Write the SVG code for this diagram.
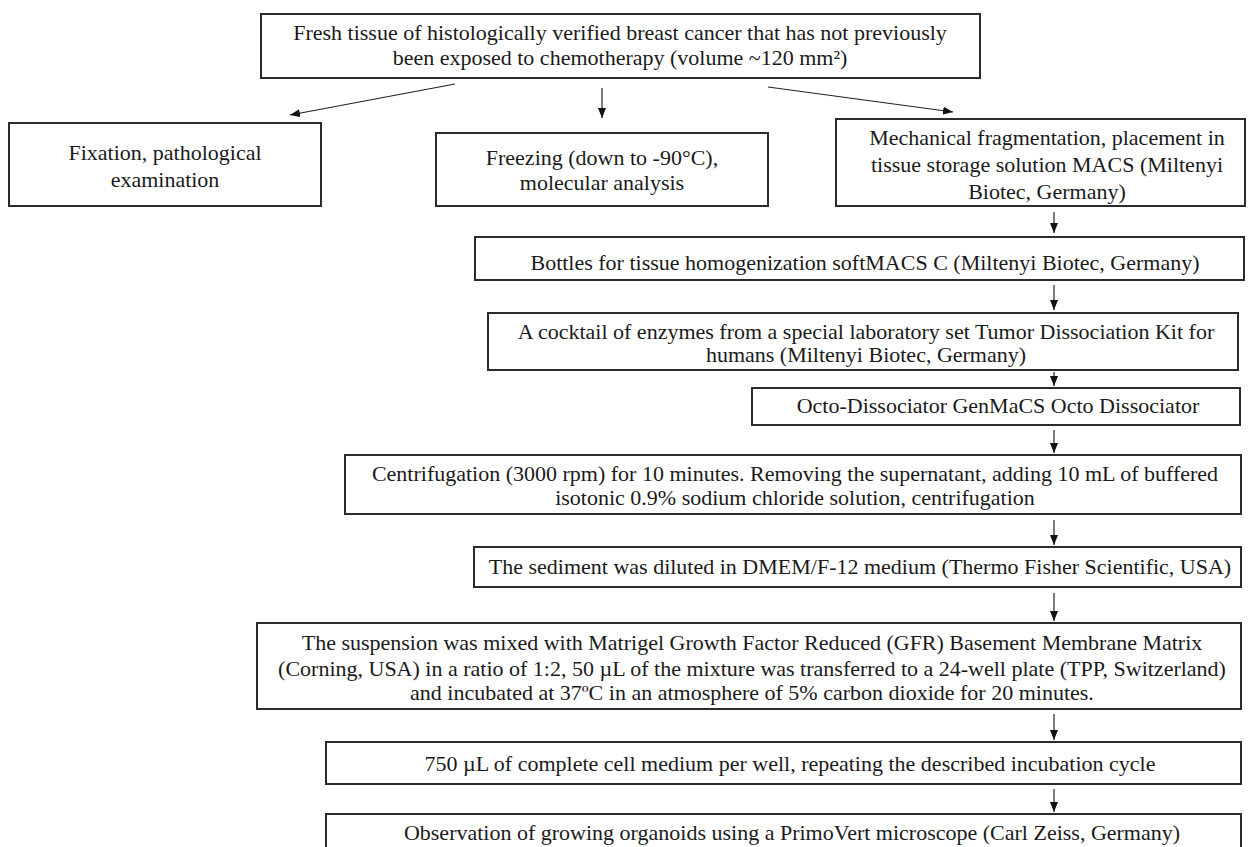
<svg xmlns="http://www.w3.org/2000/svg" width="1248" height="847" viewBox="0 0 1248 847">
<style>
.box{fill:#fff;stroke:#2b2b2b;stroke-width:2}
.t{font-family:"Liberation Serif","Times New Roman",serif;font-size:22px;fill:#1a1a1a;text-anchor:middle}
.c{stroke:#222;stroke-width:1.2;fill:none;marker-end:url(#ah)}
</style>
<defs>
<marker id="ah" markerUnits="userSpaceOnUse" markerWidth="10" markerHeight="8" refX="10" refY="4" orient="auto">
<path d="M0,0 L10,4 L0,8 z" fill="#111"/>
</marker>
</defs>
<rect width="1248" height="847" fill="#fff"/>
<g id="connectors">
<line class="c" x1="455" y1="84" x2="290" y2="115"/>
<line class="c" x1="602" y1="88" x2="602" y2="118"/>
<line class="c" x1="768" y1="87" x2="953" y2="112"/>
<line class="c" x1="1054" y1="212" x2="1054" y2="233"/>
<line class="c" x1="1054" y1="285" x2="1054" y2="310"/>
<line class="c" x1="1054" y1="372" x2="1054" y2="386"/>
<line class="c" x1="1054" y1="430" x2="1054" y2="453"/>
<line class="c" x1="1054" y1="520" x2="1054" y2="545"/>
<line class="c" x1="1054" y1="593" x2="1054" y2="621"/>
<line class="c" x1="1054" y1="714" x2="1054" y2="740"/>
<line class="c" x1="1054" y1="789" x2="1054" y2="812"/>
</g>
<g id="n_top">
<rect class="box" x="261" y="14" width="719" height="64"/>
<text class="t" x="620" y="40">Fresh tissue of histologically verified breast cancer that has not previously</text>
<text class="t" x="620" y="65">been exposed to chemotherapy (volume ~120 mm²)</text>
</g>
<g id="n_fix">
<rect class="box" x="9" y="123" width="312" height="83"/>
<text class="t" x="165" y="160">Fixation, pathological</text>
<text class="t" x="165" y="187">examination</text>
</g>
<g id="n_freeze">
<rect class="box" x="436" y="133" width="332" height="73"/>
<text class="t" x="602" y="165">Freezing (down to -90°C),</text>
<text class="t" x="602" y="190">molecular analysis</text>
</g>
<g id="n_mech">
<rect class="box" x="836" y="119" width="409" height="87"/>
<text class="t" x="1047" y="145">Mechanical fragmentation, placement in</text>
<text class="t" x="1047" y="172">tissue storage solution MACS (Miltenyi</text>
<text class="t" x="1047" y="199">Biotec, Germany)</text>
</g>
<g id="n_bottles">
<rect class="box" x="475" y="237" width="769" height="43"/>
<text class="t" x="865" y="270">Bottles for tissue homogenization softMACS C (Miltenyi Biotec, Germany)</text>
</g>
<g id="n_cocktail">
<rect class="box" x="488" y="313" width="750" height="57"/>
<text class="t" x="866" y="339">A cocktail of enzymes from a special laboratory set Tumor Dissociation Kit for</text>
<text class="t" x="866" y="362">humans (Miltenyi Biotec, Germany)</text>
</g>
<g id="n_octo">
<rect class="box" x="752" y="388" width="488" height="37"/>
<text class="t" x="998" y="413">Octo-Dissociator GenMaCS Octo Dissociator</text>
</g>
<g id="n_centri">
<rect class="box" x="345" y="455" width="896" height="59"/>
<text class="t" x="795" y="481">Centrifugation (3000 rpm) for 10 minutes. Removing the supernatant, adding 10 mL of buffered</text>
<text class="t" x="795" y="505">isotonic 0.9% sodium chloride solution, centrifugation</text>
</g>
<g id="n_sediment">
<rect class="box" x="474" y="547" width="767" height="40"/>
<text class="t" x="860" y="574">The sediment was diluted in DMEM/F-12 medium (Thermo Fisher Scientific, USA)</text>
</g>
<g id="n_susp">
<rect class="box" x="257" y="623" width="984" height="86"/>
<text class="t" x="752" y="650">The suspension was mixed with Matrigel Growth Factor Reduced (GFR) Basement Membrane Matrix</text>
<text class="t" x="752" y="676">(Corning, USA) in a ratio of 1:2, 50 µL of the mixture was transferred to a 24-well plate (TPP, Switzerland)</text>
<text class="t" x="752" y="700">and incubated at 37ºC in an atmosphere of 5% carbon dioxide for 20 minutes.</text>
</g>
<g id="n_750">
<rect class="box" x="326" y="742" width="915" height="42"/>
<text class="t" x="790" y="771">750 µL of complete cell medium per well, repeating the described incubation cycle</text>
</g>
<g id="n_obs">
<rect class="box" x="326" y="814" width="915" height="50"/>
<text class="t" x="792" y="840">Observation of growing organoids using a PrimoVert microscope (Carl Zeiss, Germany)</text>
</g>
</svg>
